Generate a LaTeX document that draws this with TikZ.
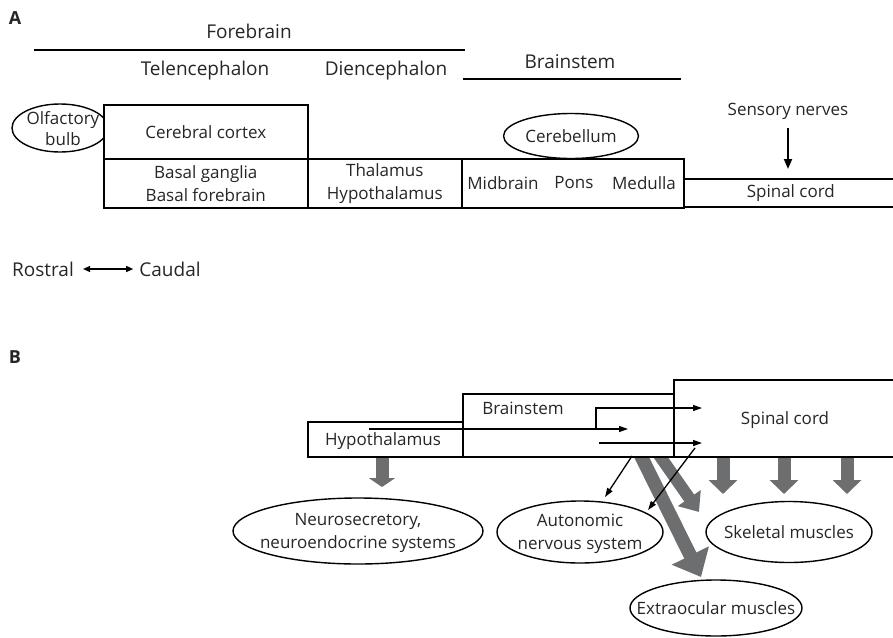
\documentclass[tikz,border=0pt]{standalone}
\usepackage{fontspec}
\setmainfont{Open Sans}
\usetikzlibrary{shapes.geometric,arrows.meta}
\definecolor{fatgray}{HTML}{6D6E70}
\begin{document}
\begin{tikzpicture}[x=1pt,y=-1pt,
  every node/.style={font=\fontsize{17}{21}\selectfont, inner sep=0pt, text=black!85},
  head/.style={font=\fontsize{19}{22}\selectfont},
  lab/.style={font=\bfseries\fontsize{18}{20}\selectfont},
  two/.style={align=center, font=\fontsize{17}{23}\selectfont},
  box/.style={draw, line width=1.6pt, fill=white, rectangle, anchor=north west, align=center},
  oval/.style={draw, line width=1.4pt, ellipse, fill=white, inner sep=0pt},
  rule/.style={line width=1.8pt},
  thinarrow/.style={line width=1.3pt, -{Triangle[length=9pt,width=6pt]}},
  nervearrow/.style={line width=1.8pt, -{Triangle[length=10pt,width=8pt]}},
  fat/.style={line width=13pt, fatgray, -{Triangle[length=14pt,width=28pt]}},
]
\clip (0,0) rectangle (893,637);
% ---------------- A ----------------
\node[lab] (labA) at (15,18) {A};
\node[head] (fore) at (249,31) {Forebrain};
\coordinate (foreL) at (34,50);
\coordinate (foreR) at (465,50);
\draw[rule] (foreL) -- (foreR);
\node[head] (tel) at (205,71) {Telencephalon};
\node[head] (die) at (386,71) {Diencephalon};
\node[head] (bst) at (570,62) {Brainstem};
\coordinate (bstL) at (463,79);
\coordinate (bstR) at (681,79);
\draw[rule] (bstL) -- (bstR);

\node[oval, minimum width=96pt, minimum height=48pt] (olf) at (60,128) {};
\node[align=center, font=\fontsize{17}{21}\selectfont] (olft) at (63,129) {Olfactory\\bulb};
\node[box, minimum width=204pt, minimum height=54pt] (cc) at (103,104) {Cerebral cortex};
\node[box, two, minimum width=204pt, minimum height=49pt] (bg) at (103,158) {Basal ganglia\\Basal forebrain};
\node[box, two, minimum width=154pt, minimum height=49pt] (tha) at (307,158) {Thalamus\\Hypothalamus};
\node[box, minimum width=222pt, minimum height=49pt] (mid) at (461,158) {};
\node (midt) at (503,183) {Midbrain};
\node (pons) at (574,183) {Pons};
\node (med) at (644,183) {Medulla};
\node[oval, minimum width=135pt, minimum height=45pt] (cer) at (571,136) {Cerebellum};
\node[box, minimum width=214pt, minimum height=28pt] (scA) at (683,178) {Spinal cord};
\node (sens) at (788,111) {Sensory nerves};
\draw[nervearrow, shorten <=9pt, shorten >=9pt] (sens.south) -- (sens.south |- scA.north);

\node[head] (ros) at (43,269) {Rostral};
\node[head] (cau) at (170,269) {Caudal};
\draw[line width=1.3pt, {Triangle[length=7pt,width=6pt]}-{Triangle[length=7pt,width=6pt]}, shorten <=9pt, shorten >=6pt] (ros.east) -- (cau.west);

% ---------------- B ----------------
\node[lab] (labB) at (15,357) {B};
% fat grey arrows
\coordinate (f0s) at (382,456); \coordinate (f0e) at (382,487);
\coordinate (f1s) at (723,456); \coordinate (f1e) at (723,494);
\coordinate (f2s) at (784,456); \coordinate (f2e) at (784,494);
\coordinate (f3s) at (847,456); \coordinate (f3e) at (847,494);
\coordinate (fas) at (657,452); \coordinate (fae) at (699,512);
\coordinate (fbs) at (639,452); \coordinate (fbe) at (701,577);
\draw[fat, -{Triangle[length=9pt,width=26pt]}] (f0s) -- (f0e);
\draw[fat] (f1s) -- (f1e);
\draw[fat] (f2s) -- (f2e);
\draw[fat] (f3s) -- (f3e);
\draw[fat, line width=12pt, -{Triangle[length=17pt,width=27pt]}] (fas) -- (fae);
\draw[fat, line width=13.5pt, -{Triangle[length=24pt,width=40pt]}] (fbs) -- (fbe);

\node[box, minimum width=155pt, minimum height=35pt] (hyp) at (307,421) {};
\node (hypt) at (383,441) {Hypothalamus};
\node[box, minimum width=211pt, minimum height=63pt] (bsB) at (462,393) {};
\node (bsBt) at (523,408) {Brainstem};
\node[box, minimum width=226pt, minimum height=77pt] (scB) at (673,379) {};
\node (scBt) at (785,420) {Spinal cord};

\node[oval, minimum width=250pt, minimum height=66pt] (neu) at (358,531) {};
\node[two] (neut) at (358,533) {Neurosecretory,\\neuroendocrine systems};
\node[oval, minimum width=166pt, minimum height=62pt] (ans) at (580,532) {};
\node[two] (anst) at (580,534) {Autonomic\\nervous system};
\node[oval, minimum width=166pt, minimum height=61pt] (skm) at (789,532) {};
\node (skmt) at (789,532) {Skeletal muscles};
\node[oval, minimum width=172pt, minimum height=56pt] (eom) at (716,608) {};
\node (eomt) at (716,608) {Extraocular muscles};

% thin arrows
\coordinate (a1s) at (369,429); \coordinate (a1e) at (628,429);
\coordinate (a2s) at (596,429); \coordinate (a2e) at (702,408);
\coordinate (a3s) at (599,443); \coordinate (a3e) at (702,443);
\coordinate (a4s) at (632,456); \coordinate (a4e) at (605,497);
\coordinate (a5s) at (695,448); \coordinate (a5e) at (648,510);
\draw[thinarrow] (a1s) -- (a1e);
\draw[thinarrow] (a2s) |- (a2e);
\draw[thinarrow] (a3s) -- (a3e);
\draw[thinarrow] (a4s) -- (a4e);
\draw[thinarrow] (a5s) -- (a5e);
\end{tikzpicture}
\end{document}
